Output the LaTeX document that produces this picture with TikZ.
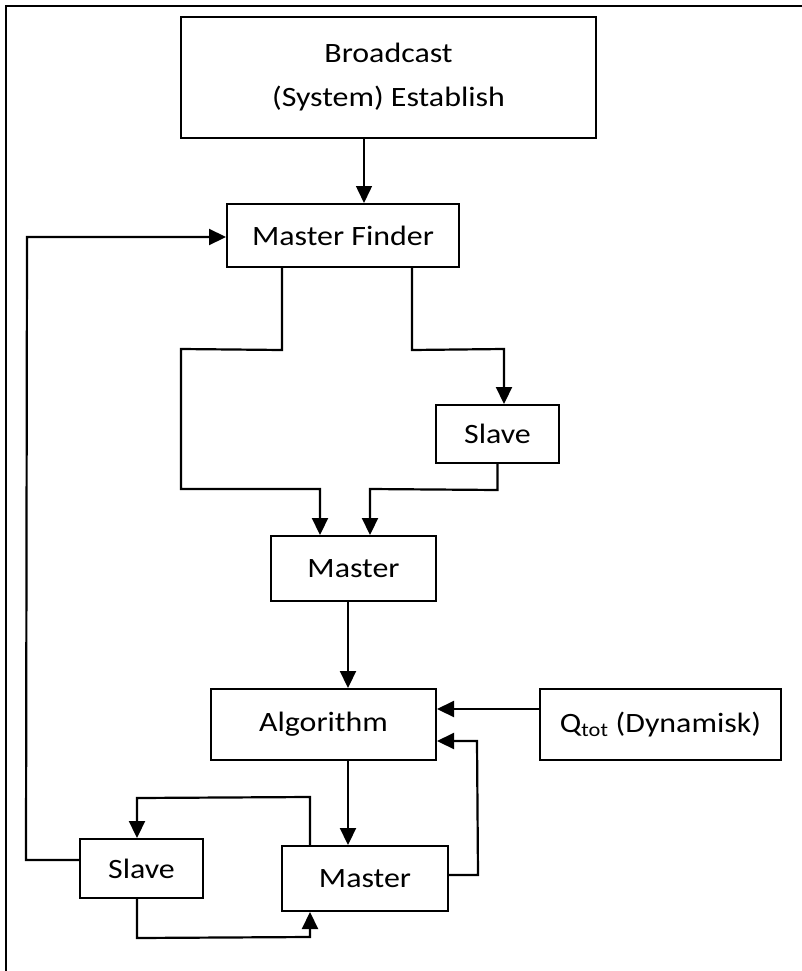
\documentclass[tikz,border=0pt]{standalone}
\usepackage{fontspec}
\setmainfont[FakeStretch=1.14]{Carlito}
\usetikzlibrary{arrows.meta}

\begin{document}
\begin{tikzpicture}[x=1pt, y=-1pt,
        block/.style={draw, line width=2pt, inner sep=0pt, align=center,
                      font=\fontsize{28}{34}\selectfont},
        flow/.style={line width=2.2pt, -{Triangle[length=17pt, width=16pt]}},
        thinflow/.style={line width=1.5pt, -{Triangle[length=17pt, width=16pt]}}]
            % Frame to ensure alignment:
            \useasboundingbox                                             (0, 0) rectangle (802, 971);
            \draw[line width=2.2pt]                                       (6, 971) -- (6, 6) -- (802, 6);
            % Blocks
            \node[block, minimum width=415, minimum height=121,
                  font=\fontsize{28}{44}\selectfont] (bcast)   at (388.5,  77.5) {Broadcast\\(System) Establish};
            \node[block, minimum width=232, minimum height=63] (finder)  at (343.0, 235.5) {Master Finder};
            \node[block, minimum width=123, minimum height=58] (slaveA)  at (497.5, 434.0) {Slave};
            \node[block, minimum width=165, minimum height=65] (masterA) at (353.5, 568.5) {Master};
            \node[block, minimum width=225, minimum height=71] (algo)    at (323.5, 724.5) {Algorithm};
            \node[block, minimum width=241, minimum height=71] (qtot)    at (660.5, 724.5) {Q\textsubscript{tot} (Dynamisk)};
            \node[block, minimum width=166, minimum height=65] (masterB) at (365.0, 878.5) {Master};
            \node[block, minimum width=123, minimum height=59] (slaveB)  at (141.5, 868.5) {Slave};
            % Broadcast to Master Finder
            \draw[thinflow] ([xshift=-24.5]bcast.south) -- ([xshift=-24.5]bcast.south |- finder.north);
            % Master Finder splits
            \draw[flow] ([xshift=-61]finder.south) -- ++(0, 82) -- (181, 349) -- (181, 489)
                        -- (320, 489) -- ([xshift=-33.5]masterA.north);
            \draw[flow] ([xshift=69]finder.south) -- ++(0, 82) -- (504, 349) -- ([xshift=6.5]slaveA.north);
            \draw[flow] (slaveA.south) -- ++(0, 26) -- (370, 489) -- ([xshift=16.5]masterA.north);
            % Master to Algorithm
            \draw[flow] ([xshift=-5.5]masterA.south) -- ([xshift=-5.5]masterA.south |- algo.north);
            \draw[flow] ([yshift=15.5]qtot.west) -- ([yshift=15.5]algo.east);
            \draw[flow] ([xshift=24.5]algo.south) -- ([xshift=24.5]algo.south |- masterB.north);
            \draw[flow] ([yshift=3.5]masterB.east) -- ++(29, 0) -- (477, 741) -- ([yshift=-16.5]algo.east);
            % Master and Slave loop
            \draw[flow] ([xshift=-55]masterB.north) -- ++(0, -48) -- (137, 798) -- ([xshift=-4.5]slaveB.north);
            \draw[flow] ([xshift=-4.5]slaveB.south) -- ++(0, 39) -- (310, 937) -- ([xshift=-55]masterB.south);
            % Back to Master Finder
            \draw[flow] ([yshift=8.5]slaveB.west) -- ++(-53, 0) -- (27, 237) -- ([yshift=-1.5]finder.west);
        \end{tikzpicture}
\end{document}
